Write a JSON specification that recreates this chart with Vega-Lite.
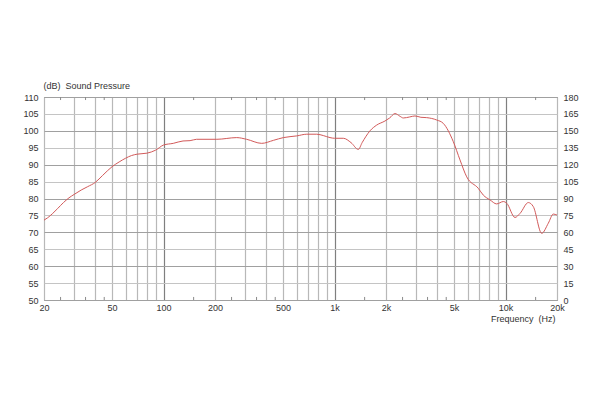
{
  "$schema": "https://vega.github.io/schema/vega-lite/v6.json",
  "width": 513,
  "height": 203,
  "autosize": {"type": "none"},
  "padding": {"left": 44, "top": 97, "right": 43, "bottom": 100},
  "background": "white",
  "config": {
    "view": {"stroke": "#7a7a7a", "strokeWidth": 1},
    "font": "Liberation Sans",
    "axis": {"labelFont": "Liberation Sans", "labelFontSize": 9, "labelColor": "#333333", "titleFont": "Liberation Sans", "titleFontSize": 9, "titleFontWeight": "normal", "titleColor": "#333333"}
  },
  "datasets": {
    "response": [
      {"f": 20, "db": 73.6}, {"f": 21, "db": 74.3}, {"f": 22.5, "db": 75.6}, {"f": 24, "db": 77.0},
      {"f": 26, "db": 78.8}, {"f": 28, "db": 80.2}, {"f": 30, "db": 81.2}, {"f": 33, "db": 82.5},
      {"f": 36, "db": 83.5}, {"f": 40, "db": 84.8}, {"f": 44, "db": 86.8}, {"f": 50, "db": 89.4},
      {"f": 55, "db": 90.8}, {"f": 60, "db": 91.9}, {"f": 65, "db": 92.7}, {"f": 70, "db": 93.1},
      {"f": 80, "db": 93.4}, {"f": 90, "db": 94.3}, {"f": 100, "db": 95.8}, {"f": 114, "db": 96.3},
      {"f": 130, "db": 97.0}, {"f": 143, "db": 97.1}, {"f": 156, "db": 97.5}, {"f": 205, "db": 97.5},
      {"f": 268, "db": 98.0}, {"f": 306, "db": 97.5}, {"f": 375, "db": 96.3}, {"f": 440, "db": 97.2},
      {"f": 502, "db": 98.0}, {"f": 601, "db": 98.5}, {"f": 688, "db": 99.0}, {"f": 787, "db": 99.0},
      {"f": 860, "db": 98.6}, {"f": 941, "db": 98.0}, {"f": 1000, "db": 97.8}, {"f": 1126, "db": 97.8},
      {"f": 1250, "db": 96.5}, {"f": 1378, "db": 94.5}, {"f": 1450, "db": 96.5}, {"f": 1612, "db": 100.0},
      {"f": 1764, "db": 101.7}, {"f": 1972, "db": 102.9}, {"f": 2100, "db": 103.8}, {"f": 2258, "db": 105.1},
      {"f": 2414, "db": 104.3}, {"f": 2524, "db": 103.8}, {"f": 2750, "db": 104.1}, {"f": 2955, "db": 104.4},
      {"f": 3200, "db": 104.0}, {"f": 3460, "db": 103.9}, {"f": 3960, "db": 103.2}, {"f": 4327, "db": 102.2},
      {"f": 4950, "db": 96.8}, {"f": 5417, "db": 91.4}, {"f": 5929, "db": 86.4}, {"f": 6932, "db": 83.0},
      {"f": 7414, "db": 81.0}, {"f": 8112, "db": 79.6}, {"f": 8876, "db": 78.4}, {"f": 9705, "db": 79.1},
      {"f": 10160, "db": 78.6}, {"f": 11357, "db": 74.4}, {"f": 12157, "db": 75.6}, {"f": 13590, "db": 78.8},
      {"f": 14537, "db": 77.6}, {"f": 16278, "db": 69.7}, {"f": 17792, "db": 72.7}, {"f": 19026, "db": 75.4},
      {"f": 20000, "db": 75.1}
    ],
    "minor": [
      {"f": 25}, {"f": 35}, {"f": 45}, {"f": 150}, {"f": 250}, {"f": 350}, {"f": 450},
      {"f": 1500}, {"f": 2500}, {"f": 3500}, {"f": 4500}, {"f": 15000}
    ],
    "rightAxis": [{"r": 0}, {"r": 180}]
  },
  "layer": [
    {
      "layer": [
        {
          "data": {"name": "response"},
          "mark": {"type": "line", "color": "#d25a5a", "strokeWidth": 1, "interpolate": "monotone"},
          "encoding": {
            "x": {
              "field": "f", "type": "quantitative",
              "scale": {"type": "log", "domain": [20, 20000], "nice": false},
              "axis": {
                "values": [20, 30, 40, 50, 60, 70, 80, 90, 100, 200, 300, 400, 500, 600, 700, 800, 900, 1000, 2000, 3000, 4000, 5000, 6000, 7000, 8000, 9000, 10000, 20000],
                "labelExpr": "indexof([20,50,100,200,500,1000,2000,5000,10000,20000], datum.value) >= 0 ? (datum.value >= 1000 ? (datum.value/1000) + 'k' : '' + datum.value) : ''",
                "labelOverlap": false,
                "labelFlush": false,
                "labelPadding": 3,
                "ticks": false,
                "domain": false,
                "grid": true,
                "gridColor": {"condition": {"test": "datum.value == 100 || datum.value == 1000 || datum.value == 10000", "value": "#7f7f7f"}, "value": "#b8b8b8"},
                "gridWidth": 1.2,
                "title": "Frequency\u00a0\u00a0(Hz)",
                "titleAlign": "right",
                "titleAnchor": null,
                "titleX": 511,
                "titleY": 18,
                "titleBaseline": "middle"
              }
            },
            "y": {
              "field": "db", "type": "quantitative",
              "scale": {"domain": [50, 110], "nice": false, "zero": false},
              "axis": {
                "orient": "left",
                "values": [50, 55, 60, 65, 70, 75, 80, 85, 90, 95, 100, 105, 110],
                "labelOverlap": false,
                "ticks": false,
                "domain": false,
                "labelPadding": 6,
                "grid": true,
                "gridColor": {"condition": {"test": "datum.value % 10 == 0", "value": "#a0a0a0"}, "value": "#c4c4c4"},
                "gridWidth": 1.2,
                "title": "(dB)\u00a0\u00a0Sound Pressure",
                "titleAngle": 0,
                "titleAlign": "left",
                "titleAnchor": null,
                "titleX": -1,
                "titleY": -12,
                "titleBaseline": "middle"
              }
            }
          }
        },
        {
          "data": {"name": "minor"},
          "mark": {"type": "rule", "color": "#8a8a8a", "strokeWidth": 1},
          "encoding": {
            "x": {"field": "f", "type": "quantitative"},
            "y": {
              "datum": 50, "type": "quantitative",
              "scale": {"domain": [50, 110], "nice": false, "zero": false},
              "axis": {
                "orient": "left",
                "values": [50, 55, 60, 65, 70, 75, 80, 85, 90, 95, 100, 105, 110],
                "labelOverlap": false,
                "ticks": false,
                "domain": false,
                "labelPadding": 6,
                "grid": true,
                "gridColor": {"condition": {"test": "datum.value % 10 == 0", "value": "#a0a0a0"}, "value": "#c4c4c4"},
                "gridWidth": 1.2,
                "title": "(dB)\u00a0\u00a0Sound Pressure",
                "titleAngle": 0,
                "titleAlign": "left",
                "titleAnchor": null,
                "titleX": -1,
                "titleY": -12,
                "titleBaseline": "middle"
              }
            },
            "y2": {"datum": 50.9}
          }
        },
        {
          "data": {"name": "minor"},
          "mark": {"type": "rule", "color": "#8a8a8a", "strokeWidth": 1},
          "encoding": {
            "x": {"field": "f", "type": "quantitative"},
            "y": {
              "datum": 110, "type": "quantitative",
              "scale": {"domain": [50, 110], "nice": false, "zero": false},
              "axis": {
                "orient": "left",
                "values": [50, 55, 60, 65, 70, 75, 80, 85, 90, 95, 100, 105, 110],
                "labelOverlap": false,
                "ticks": false,
                "domain": false,
                "labelPadding": 6,
                "grid": true,
                "gridColor": {"condition": {"test": "datum.value % 10 == 0", "value": "#a0a0a0"}, "value": "#c4c4c4"},
                "gridWidth": 1.2,
                "title": "(dB)\u00a0\u00a0Sound Pressure",
                "titleAngle": 0,
                "titleAlign": "left",
                "titleAnchor": null,
                "titleX": -1,
                "titleY": -12,
                "titleBaseline": "middle"
              }
            },
            "y2": {"datum": 109.1}
          }
        }
      ]
    },
    {
      "data": {"name": "rightAxis"},
      "mark": {"type": "point", "opacity": 0},
      "encoding": {
        "y": {
          "field": "r", "type": "quantitative",
          "scale": {"domain": [0, 180], "nice": false},
          "axis": {
            "orient": "right",
            "values": [0, 15, 30, 45, 60, 75, 90, 105, 120, 135, 150, 165, 180],
            "labelOverlap": false,
            "ticks": false,
            "domain": false,
            "grid": false,
            "labelPadding": 6,
            "title": null
          }
        }
      }
    }
  ],
  "resolve": {"scale": {"y": "independent"}}
}
